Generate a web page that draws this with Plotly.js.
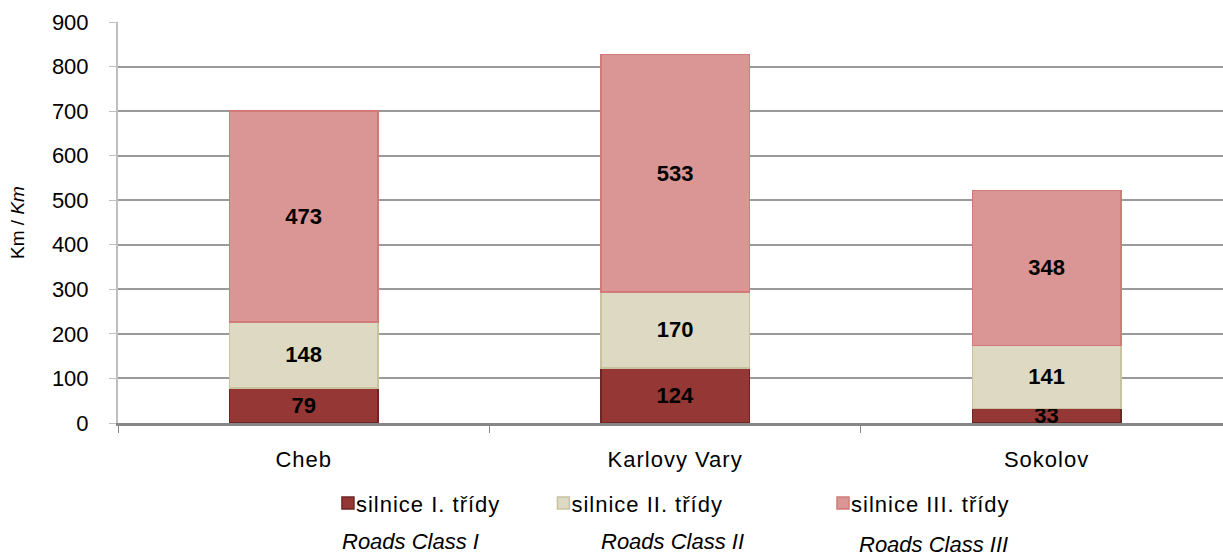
<!DOCTYPE html>
<html>
<head>
<meta charset="utf-8">
<script src="https://cdn.plot.ly/plotly-3.0.1.min.js"></script>
<style>
html,body{margin:0;padding:0;background:#fff;}
#chart{width:1223px;height:556px;}
.xtick text{letter-spacing:1px;}
text.legendtext, text.legend2text, text.legend3text{letter-spacing:1px;}
</style>
</head>
<body>
<div id="chart"></div>
<script>
const categories = ["Cheb", "Karlovy Vary", "Sokolov"];
const classI = [79, 124, 33];
const classII = [148, 170, 141];
const classIII = [473, 533, 348];
const seriesNames = ["silnice I. třídy", "silnice II. třídy", "silnice III. třídy"];
const seriesNamesEn = ["Roads Class I", "Roads Class II", "Roads Class III"];
const yTicks = [0, 100, 200, 300, 400, 500, 600, 700, 800, 900];

const FONT = "Liberation Sans, Arial, sans-serif";
const fills = ["#953735", "#DDD9C3", "#D99694"];
const lines = ["#6E2624", "#C9C29E", "#D27A79"];
const legends = ["legend", "legend2", "legend3"];
const values = [classI, classII, classIII];

const traces = values.map((v, i) => ({
  type: "bar",
  x: categories,
  y: v,
  name: seriesNames[i],
  legend: legends[i],
  marker: {color: fills[i], line: {color: lines[i], width: 1.5}},
  text: v.map(String),
  texttemplate: "%{text}",
  textposition: "inside",
  insidetextanchor: "middle",
  constraintext: "none",
  textangle: 0,
  textfont: {family: FONT, size: 22, color: "#000", weight: "bold"},
  hoverinfo: "skip"
}));

const legendBase = {
  orientation: "h",
  yanchor: "middle",
  y: -0.2,
  xanchor: "left",
  bgcolor: "rgba(0,0,0,0)",
  font: {family: FONT, size: 22, color: "#000"},
  itemwidth: 30
};

const layout = {
  width: 1223,
  height: 556,
  margin: {l: 118, r: 0, t: 22, b: 133},
  paper_bgcolor: "#fff",
  plot_bgcolor: "#fff",
  barmode: "stack",
  bargap: 0.6,
  font: {family: FONT, color: "#000"},
  showlegend: true,
  legend: Object.assign({}, legendBase, {x: 0.19}),
  legend2: Object.assign({}, legendBase, {x: 0.385}),
  legend3: Object.assign({}, legendBase, {x: 0.638}),
  xaxis: {
    type: "category",
    range: [-0.5, 2.475],
    showline: true,
    linecolor: "#868686",
    linewidth: 3,
    ticks: "outside",
    tickson: "boundaries",
    ticklen: 7,
    tickcolor: "#868686",
    tickwidth: 1,
    showgrid: false,
    tickfont: {family: FONT, size: 22, color: "#000"},
    ticklabelstandoff: 15
  },
  yaxis: {
    range: [0, 900],
    tickvals: yTicks,
    ticktext: yTicks.map(String),
    showline: true,
    linecolor: "#BFBFBF",
    linewidth: 2,
    ticks: "outside",
    ticklen: 7,
    tickcolor: "#BFBFBF",
    showgrid: true,
    gridcolor: "#9A9A9A",
    gridwidth: 2,
    zeroline: false,
    tickfont: {family: FONT, size: 22, color: "#000"},
    ticklabelstandoff: 16,
    title: {text: "Km / <i>Km</i>", font: {family: FONT, size: 19, color: "#000"}, standoff: 22}
  },
  annotations: [
    {text: "<i>" + seriesNamesEn[0] + "</i>", x: 340, y: 541},
    {text: "<i>" + seriesNamesEn[1] + "</i>", x: 599, y: 541},
    {text: "<i>" + seriesNamesEn[2] + "</i>", x: 857, y: 544}
  ].map(a => ({
    text: a.text,
    xref: "paper", yref: "paper",
    x: (a.x - 118) / 1105,
    y: (423 - a.y) / 401,
    xanchor: "left", yanchor: "middle",
    showarrow: false,
    font: {family: FONT, size: 22, color: "#000"}
  }))
};

function tightenLegends(gd) {
  gd.querySelectorAll("text.legendtext, text.legend2text, text.legend3text").forEach(t => {
    t.setAttribute("x", "28");
  });
}

const gd = document.getElementById("chart");
Plotly.newPlot(gd, traces, layout, {displayModeBar: false, staticPlot: true}).then(() => {
  tightenLegends(gd);
  gd.on("plotly_afterplot", () => tightenLegends(gd));
});
</script>
</body>
</html>
